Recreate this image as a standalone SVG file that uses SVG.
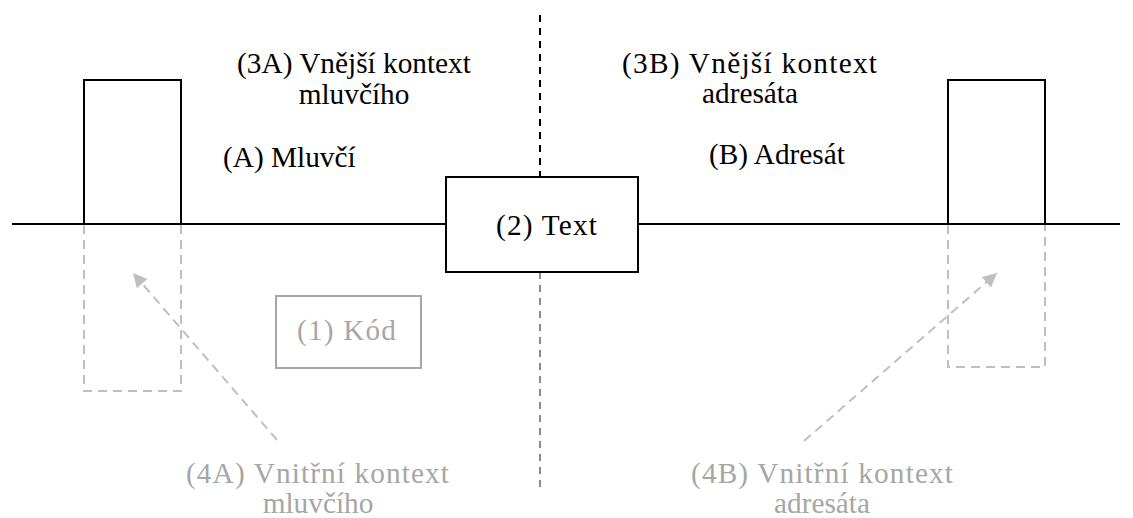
<svg xmlns="http://www.w3.org/2000/svg" width="1133" height="518" viewBox="0 0 1133 518">
  <defs>
    <style>
      text { font-size: 29.3px; }
      .lbl { fill: #000; }
      .lbl-g { fill: #a6a6a6; }
      .solid { fill: #fff; stroke: #000; stroke-width: 2; }
      .axis { fill: none; stroke: #000; stroke-width: 2; }
      .ghost { fill: none; stroke: #bfbfbf; stroke-width: 2; stroke-dasharray: 9 6; }
      .divider { fill: none; stroke: #000; stroke-width: 2; stroke-dasharray: 7 6; }
      .divider-low { fill: none; stroke: #8c8c8c; stroke-width: 2; stroke-dasharray: 7 6; }
      .code { fill: #fff; stroke: #a6a6a6; stroke-width: 2; }
    </style>
    <marker id="arrow-g" viewBox="0 0 10 10" refX="10" refY="5" markerWidth="8" markerHeight="7" markerUnits="strokeWidth" orient="auto">
      <path d="M0,0 L10,5 L0,10 z" fill="#bfbfbf"/>
    </marker>
  </defs>
  <rect width="1133" height="518" fill="#fff"/>

  <g id="connectors">
    <line class="axis" x1="12" y1="224" x2="446" y2="224"/>
    <line class="axis" x1="638" y1="224" x2="1120" y2="224"/>
    <line class="divider" x1="540" y1="15" x2="540" y2="177"/>
    <line class="divider-low" x1="540" y1="272" x2="540" y2="492"/>
    <line class="ghost" x1="277" y1="440" x2="133" y2="273" marker-end="url(#arrow-g)"/>
    <line class="ghost" x1="804" y1="441" x2="997" y2="273" marker-end="url(#arrow-g)"/>
  </g>

  <g id="speaker">
    <rect class="solid" x="84" y="80" width="97" height="144"/>
    <text class="lbl" x="223" y="167" font-family="'Liberation Serif'">(A) Mluvčí</text>
  </g>

  <g id="speaker-inner">
    <path class="ghost" d="M84,225 V391 H181 V225"/>
  </g>

  <g id="speaker-outer-context">
    <text class="lbl" x="354" y="73" text-anchor="middle" font-family="Tinos">(3A) Vnější kontext</text>
    <text class="lbl" x="354" y="104" text-anchor="middle" font-family="Times">mluvčího</text>
  </g>

  <g id="addressee">
    <rect class="solid" x="948" y="80" width="97" height="144"/>
    <text class="lbl" x="709" y="164" font-family="Tinos">(B) Adresát</text>
  </g>

  <g id="addressee-inner">
    <path class="ghost" d="M948,225 V367 H1045 V225"/>
  </g>

  <g id="addressee-outer-context">
    <text class="lbl" x="622" y="73" textLength="255" font-family="'Liberation Serif'">(3B) Vnější kontext</text>
    <text class="lbl" x="750" y="103" text-anchor="middle" font-family="Times">adresáta</text>
  </g>

  <g id="text-node">
    <rect class="solid" x="446" y="177" width="192" height="95"/>
    <text class="lbl" x="496" y="235" textLength="101" font-family="Times New Roman">(2) Text</text>
  </g>

  <g id="code-node">
    <rect class="code" x="276" y="296" width="145" height="72"/>
    <text class="lbl-g" x="297" y="340" textLength="99" font-family="Tinos">(1) Kód</text>
  </g>

  <g id="speaker-inner-label">
    <text class="lbl-g" x="186" y="483" textLength="263" font-family="'Liberation Serif'">(4A) Vnitřní kontext</text>
    <text class="lbl-g" x="318" y="513" text-anchor="middle" font-family="Times">mluvčího</text>
  </g>

  <g id="addressee-inner-label">
    <text class="lbl-g" x="691" y="483" textLength="262" font-family="Times">(4B) Vnitřní kontext</text>
    <text class="lbl-g" x="822" y="513" text-anchor="middle" font-family="Tinos">adresáta</text>
  </g>
</svg>
